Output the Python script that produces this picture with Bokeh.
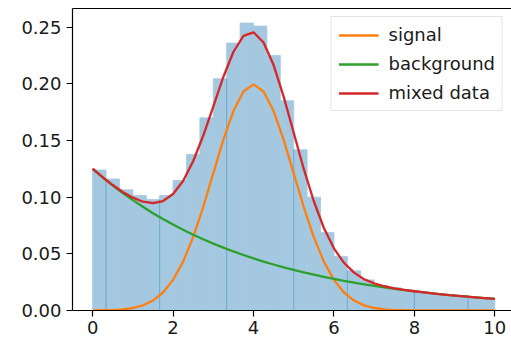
import numpy as np
from bokeh.plotting import figure
from bokeh.models import (ColumnDataSource, FixedTicker, LinearAxis, Legend,
                          LegendItem, NumeralTickFormatter, Range1d)
from bokeh.embed import file_html
from bokeh.resources import INLINE

# ---- data ----
bin_edges = np.linspace(0, 10, 31)
hist_density = [0.124, 0.116, 0.1065, 0.1015, 0.098, 0.1015, 0.1147, 0.1377,
                0.170, 0.2045, 0.236, 0.2536, 0.251, 0.225, 0.185, 0.1418,
                0.100, 0.0688, 0.0477, 0.035, 0.027, 0.022, 0.020, 0.018,
                0.016, 0.015, 0.014, 0.013, 0.012, 0.011]

curve_x = np.linspace(0, 10, 41)
signal = [0.0001, 0.0002, 0.0004, 0.0010, 0.0022, 0.0045, 0.0088, 0.0159,
          0.0270, 0.0431, 0.0648, 0.0913, 0.1210, 0.1506, 0.1760, 0.1933,
          0.1995, 0.1933, 0.1760, 0.1506, 0.1210, 0.0913, 0.0648, 0.0431,
          0.0270, 0.0159, 0.0088, 0.0045, 0.0022, 0.0010, 0.0004, 0.0002,
          0.0001, 0.0, 0.0, 0.0, 0.0, 0.0, 0.0, 0.0, 0.0]
background = [0.1250, 0.1174, 0.1103, 0.1036, 0.0974, 0.0915, 0.0859, 0.0807,
              0.0758, 0.0712, 0.0669, 0.0629, 0.0590, 0.0555, 0.0521, 0.0490,
              0.0460, 0.0432, 0.0406, 0.0381, 0.0358, 0.0336, 0.0316, 0.0297,
              0.0279, 0.0262, 0.0246, 0.0231, 0.0217, 0.0204, 0.0192, 0.0180,
              0.0169, 0.0159, 0.0149, 0.0140, 0.0132, 0.0124, 0.0116, 0.0109,
              0.0103]
mixed = [0.1251, 0.1176, 0.1107, 0.1046, 0.0996, 0.0960, 0.0947, 0.0966,
         0.1028, 0.1143, 0.1317, 0.1542, 0.1800, 0.2061, 0.2281, 0.2423,
         0.2455, 0.2365, 0.2166, 0.1887, 0.1568, 0.1249, 0.0964, 0.0728,
         0.0549, 0.0421, 0.0334, 0.0276, 0.0239, 0.0214, 0.0196, 0.0182,
         0.0170, 0.0159, 0.0149, 0.0140, 0.0132, 0.0124, 0.0116, 0.0109,
         0.0103]
series_labels = ["signal", "background", "mixed data"]
x_ticks = [0, 2, 4, 6, 8, 10]
y_ticks = [0.0, 0.05, 0.10, 0.15, 0.20, 0.25]
seam_idx = [1, 5, 10, 15, 19, 24, 28]

# ---- figure ----
FONT = "DejaVu Sans"
TXT = "#1a1a1a"
BAR = "#a5c8e1"
p = figure(width=511, height=341, output_backend="svg", toolbar_location=None,
           x_range=Range1d(-0.5, 10.415), y_range=Range1d(0, 0.2665),
           min_border_left=72, min_border_right=0, min_border_top=8,
           min_border_bottom=31)
p.outline_line_color = None
p.grid.visible = False
p.background_fill_color = "white"
p.border_fill_color = "white"

src = ColumnDataSource(dict(left=bin_edges[:-1], right=bin_edges[1:],
                            top=hist_density))
p.quad(left="left", right="right", bottom=0, top="top", source=src,
       fill_color=BAR, line_color=BAR, line_width=0.8)

# faint seams between some bars (as seen in the reference)
sx = [bin_edges[i] for i in seam_idx]
sy = [min(hist_density[i - 1], hist_density[i]) for i in seam_idx]
p.segment(x0=sx, y0=[0] * len(sx), x1=sx, y1=sy, line_color="#1f77b4",
          line_alpha=0.4, line_width=1)

r1 = p.line(curve_x, signal, line_color="#ff7f0e", line_width=2.3,
            line_join="round")
r2 = p.line(curve_x, background, line_color="#2ca02c", line_width=2.3,
            line_join="round")
r3 = p.line(curve_x, mixed, line_color="#d62728", line_width=2.3,
            line_join="round")

# axes
for ax in (p.xaxis[0], p.yaxis[0]):
    ax.axis_line_color = "black"
    ax.axis_line_width = 1.2
    ax.major_tick_line_color = "black"
    ax.major_tick_line_width = 1.2
    ax.major_tick_out = 6
    ax.major_tick_in = 0
    ax.minor_tick_line_color = None
    ax.major_label_text_font = FONT
    ax.major_label_text_font_size = "18px"
    ax.major_label_text_color = TXT
p.xaxis[0].ticker = FixedTicker(ticks=x_ticks)
p.yaxis[0].ticker = FixedTicker(ticks=y_ticks)
p.yaxis[0].formatter = NumeralTickFormatter(format="0.00")
p.xaxis[0].major_label_standoff = 4
p.yaxis[0].major_label_standoff = 5

top_axis = LinearAxis(ticker=FixedTicker(ticks=[]), axis_line_color="black",
                      axis_line_width=1.2, major_tick_line_color=None,
                      minor_tick_line_color=None, major_label_text_font_size="0px",
                      major_tick_out=0, major_label_standoff=0)
p.add_layout(top_axis, "above")

legend = Legend(items=[LegendItem(label=series_labels[0], renderers=[r1]),
                       LegendItem(label=series_labels[1], renderers=[r2]),
                       LegendItem(label=series_labels[2], renderers=[r3])],
                location="top_right")
legend.margin = 8
legend.padding = 7
legend.spacing = 8
legend.glyph_width = 40
legend.glyph_height = 20
legend.label_standoff = 10
legend.label_text_font = FONT
legend.label_text_font_size = "18px"
legend.label_text_color = TXT
legend.border_line_color = "#cccccc"
legend.border_line_width = 1
legend.background_fill_color = "white"
legend.background_fill_alpha = 0.8
p.add_layout(legend)

open("out.html", "w").write(file_html(p, INLINE))
